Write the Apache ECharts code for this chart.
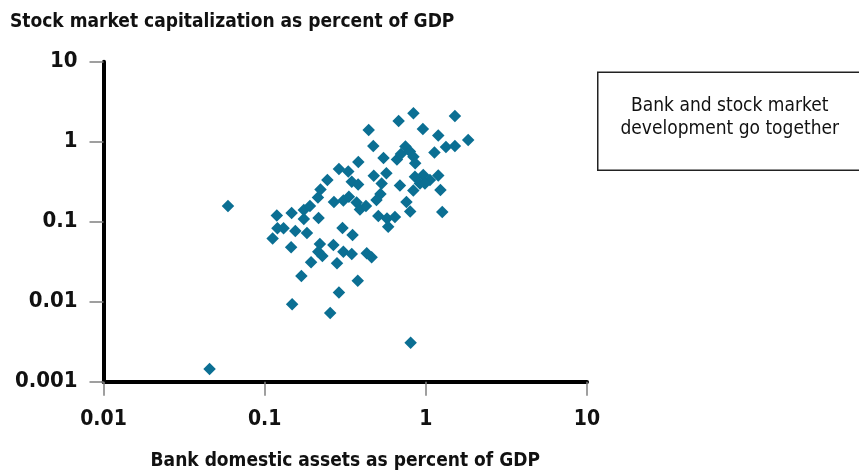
<!DOCTYPE html>
<html>
<head>
<meta charset="utf-8">
<script src="https://cdn.jsdelivr.net/npm/echarts@6/dist/echarts.min.js"></script>
<style>
  html, body { margin: 0; padding: 0; background: #fff; }
  #chart { width: 859px; height: 470px; }
</style>
</head>
<body>
<div id="chart"></div>
<script>
// Bank domestic assets (share of GDP) per country
const bankAssets = [
  0.0455, 0.0592, 0.112, 0.119, 0.120, 0.131, 0.147, 0.146, 0.148, 0.155,
  0.169, 0.175, 0.191, 0.175, 0.183, 0.194, 0.214, 0.216, 0.220, 0.215,
  0.228, 0.222, 0.245, 0.255, 0.267, 0.269, 0.281, 0.289, 0.289, 0.304,
  0.308, 0.308, 0.330, 0.333, 0.347, 0.347, 0.351, 0.372, 0.381, 0.380,
  0.390, 0.425, 0.378, 0.430, 0.442, 0.461, 0.472, 0.475, 0.507, 0.523,
  0.494, 0.532, 0.546, 0.569, 0.574, 0.643, 0.584, 0.662, 0.701, 0.678,
  0.691, 0.747, 0.797, 0.838, 0.859, 0.758, 0.800, 0.805, 0.838, 0.836,
  0.856, 0.964, 1.060, 1.194, 0.919, 0.987, 0.959, 1.131, 1.194, 1.232,
  1.264, 1.333, 1.515, 1.515, 1.832
];
// Stock market capitalization (share of GDP) for the same countries
const stockCap = [
  0.00144, 0.157, 0.0617, 0.1195, 0.0827, 0.0827, 0.1285, 0.0479, 0.00928, 0.0765,
  0.0210, 0.140, 0.157, 0.108, 0.0722, 0.0311, 0.2007, 0.111, 0.0526, 0.0422,
  0.0373, 0.2527, 0.332, 0.00722, 0.0511, 0.176, 0.0302, 0.456, 0.01303, 0.0834,
  0.184, 0.0422, 0.424, 0.2054, 0.316, 0.0395, 0.0682, 0.1738, 0.557, 0.2917,
  0.142, 0.157, 0.0183, 0.0403, 1.40, 0.0359, 0.883, 0.375, 0.1178, 0.222,
  0.1866, 0.300, 0.626, 0.4027, 0.1096, 0.1145, 0.0866, 0.599, 0.702, 1.814,
  0.2835, 0.871, 0.754, 0.649, 0.537, 0.176, 0.134, 0.00307, 2.265, 0.2455,
  0.365, 0.383, 0.332, 0.378, 0.300, 0.300, 1.441, 0.733, 1.195, 0.249,
  0.132, 0.859, 0.883, 2.096, 1.05
];
// Tick labels, one per power of ten
const xTickLabels = ['0.01', '0.1', '1', '10'];
const yTickLabels = ['0.001', '0.01', '0.1', '1', '10'];

const FONT = '"Liberation Sans Narrow", "DejaVu Sans Condensed", "Liberation Sans", Arial, sans-serif';

function decadeLabel(labels, firstExp) {
  return function (v) {
    const e = Math.round(Math.log10(v));
    return labels[e - firstExp] !== undefined ? labels[e - firstExp] : '';
  };
}

const points = bankAssets.map((x, i) => [x, stockCap[i]]);

const chart = echarts.init(document.getElementById('chart'), null, { renderer: 'canvas' });
chart.setOption({
  animation: false,
  backgroundColor: '#ffffff',
  title: {
    text: 'Stock market capitalization as percent of GDP',
    left: 5,
    top: 8,
    textStyle: { fontFamily: FONT, fontSize: 19, fontWeight: 'bold', color: '#111' }
  },
  grid: {
    left: 103.5, right: 272, top: 61.7, bottom: 88.3,
    containLabel: false,
    outerBoundsMode: 'none'
  },
  xAxis: {
    type: 'log',
    logBase: 10,
    min: 0.01,
    max: 10,
    splitNumber: 3,
    name: 'Bank domestic assets as percent of GDP',
    nameLocation: 'middle',
    nameGap: 70,
    nameTextStyle: { fontFamily: FONT, fontSize: 19, fontWeight: 'bold', color: '#111' },
    axisLine: { show: true, lineStyle: { color: '#000', width: 4 } },
    axisTick: { show: true, length: 14, lineStyle: { color: '#808080', width: 1.5 } },
    axisLabel: {
      margin: 27,
      fontFamily: FONT, fontSize: 21, fontWeight: 'bold', color: '#111',
      formatter: decadeLabel(xTickLabels, -2)
    },
    splitLine: { show: false },
    minorTick: { show: false }
  },
  yAxis: {
    type: 'log',
    logBase: 10,
    min: 0.001,
    max: 10,
    splitNumber: 4,
    axisLine: { show: true, onZero: false, lineStyle: { color: '#000', width: 4 } },
    axisTick: { show: true, length: 14, lineStyle: { color: '#808080', width: 1.5 } },
    axisLabel: {
      margin: 26,
      fontFamily: FONT, fontSize: 22, fontWeight: 'bold', color: '#111',
      formatter: decadeLabel(yTickLabels, -3)
    },
    splitLine: { show: false }
  },
  series: [{
    type: 'scatter',
    data: points,
    symbol: 'diamond',
    symbolSize: 12.5,
    itemStyle: { color: '#0b6f93', opacity: 1 }
  }],
  graphic: [{
    type: 'group',
    left: 597,
    top: 71.5,
    children: [
      {
        type: 'rect',
        shape: { x: 0, y: 0, width: 330, height: 98 },
        style: { fill: '#fff', stroke: '#222', lineWidth: 1.5 }
      },
      {
        type: 'text',
        x: 132,
        y: 45,
        style: {
          text: 'Bank and stock market\ndevelopment go together',
          fontFamily: FONT,
          fontSize: 19,
          lineHeight: 23,
          fill: '#111',
          align: 'center',
          verticalAlign: 'middle'
        }
      }
    ]
  }]
});
</script>
</body>
</html>
